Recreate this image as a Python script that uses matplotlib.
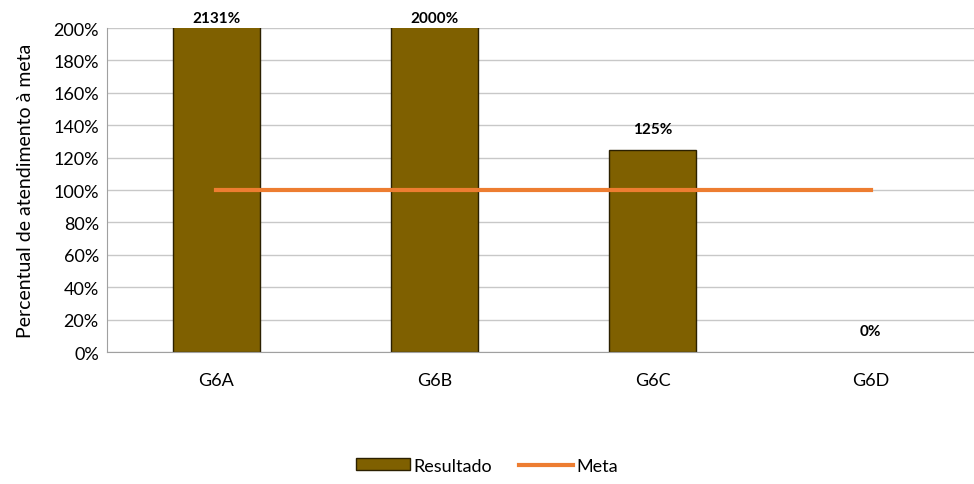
import matplotlib.pyplot as plt
import numpy as np
from matplotlib.ticker import PercentFormatter

plt.rcParams['font.family'] = ['Lato', 'DejaVu Sans']

categorias = ["G6A", "G6B", "G6C", "G6D"]
resultado = [2131, 2000, 125, 0]   # percent
meta = [100, 100, 100, 100]        # percent
y_max = 200

fig = plt.figure(figsize=(9.74, 4.85), dpi=100)
ax = fig.add_axes([0.110, 0.272, 0.896, 0.668])

x = np.arange(len(categorias))
bars = ax.bar(x, resultado, width=0.40, color='#7F6000', edgecolor='#2b2000',
              linewidth=1, label='Resultado', zorder=2)
for b, v in zip(bars, resultado):
    if v == 0:
        b.set_linewidth(0)
line, = ax.plot(x, meta, color='#ED7D31', linewidth=3, label='Meta', zorder=3)

# value labels, bars above the scale are clipped at the top
for xi, v in zip(x, resultado):
    off = 2 if v > y_max else 10
    ax.annotate(f"{v}%", (xi, min(v, y_max)), xytext=(0, off), textcoords='offset points',
                ha='center', va='bottom', fontsize=11, fontweight='bold',
                annotation_clip=False)

ax.set_xlim(-0.5, len(categorias) - 0.5)
ax.set_ylim(0, y_max)
ax.set_yticks(np.arange(0, y_max + 1, 20))
ax.yaxis.set_major_formatter(PercentFormatter(decimals=0))
ax.set_xticks(x)
ax.set_xticklabels(categorias)
ax.tick_params(axis='both', labelsize=13, length=0, colors='#000000')
ax.tick_params(axis='x', pad=14)
ax.tick_params(axis='y', pad=6)
ax.grid(axis='y', color='#c8c8c8', linewidth=1, zorder=0)
ax.set_axisbelow(True)
for s in ['top', 'right']:
    ax.spines[s].set_visible(False)
ax.spines['left'].set_color('#a0a0a0')
ax.spines['bottom'].set_color('#a0a0a0')
ax.set_ylabel("Percentual de atendimento à meta", fontsize=14, labelpad=14)

fig.legend([bars, line], ['Resultado', 'Meta'], loc='lower center',
           bbox_to_anchor=(0.5, -0.012), ncol=2, frameon=False,
           fontsize=13, handlelength=3, handleheight=0.6, columnspacing=1.5,
           handletextpad=0.2)

fig.savefig("out.png", dpi=100)
